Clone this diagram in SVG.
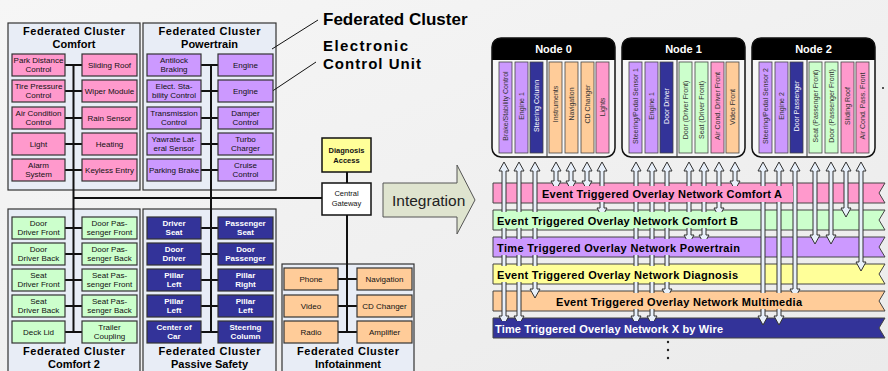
<svg xmlns="http://www.w3.org/2000/svg" width="888" height="371" viewBox="0 0 888 371">
<defs>
<linearGradient id="bg" x1="0" y1="0" x2="1" y2="1">
<stop offset="0" stop-color="#f6f6f6"/><stop offset="1" stop-color="#ebebeb"/>
</linearGradient>
<style>
.frame{fill:#e8edf6;stroke:#333;stroke-width:1.2}
.ft{font-family:"Liberation Sans",Arial,sans-serif;font-weight:bold;font-size:11px;text-anchor:middle;fill:#000}
.ecu{stroke:#333;stroke-width:1.2}
.pk{fill:#ff99cc}.pu{fill:#cc99ff}.gr{fill:#ccffcc}.bl{fill:#333399}.or{fill:#ffcc99}.ye{fill:#ffff99}
.et{font-family:"Liberation Sans",Arial,sans-serif;font-size:8px;text-anchor:middle;fill:#111}
.ew{font-family:"Liberation Sans",Arial,sans-serif;font-size:8px;font-weight:bold;text-anchor:middle;fill:#fff}
.bus{stroke:#111;stroke-width:2;fill:none}
.thin{stroke:#111;stroke-width:1;fill:none}
.call{font-family:"Liberation Sans",Arial,sans-serif;font-weight:bold;font-size:17px;fill:#000}
.call2{font-family:"Liberation Sans",Arial,sans-serif;font-weight:bold;font-size:15px;fill:#000}
.arr{fill:#e8f0fa;stroke:#333;stroke-width:1}
.band{stroke:#444;stroke-width:1}
.bt{font-family:"Liberation Sans",Arial,sans-serif;font-weight:bold;font-size:11px;fill:#000}
.col{stroke:#444;stroke-width:0.8}
.ct{font-family:"Liberation Sans",Arial,sans-serif;font-size:7px;text-anchor:middle;fill:#333}
.cw{font-family:"Liberation Sans",Arial,sans-serif;font-size:7px;text-anchor:middle;fill:#fff}
.nt{font-family:"Liberation Sans",Arial,sans-serif;font-weight:bold;font-size:11px;text-anchor:middle;fill:#fff}
.sm{font-family:"Liberation Sans",Arial,sans-serif;font-size:7.5px;text-anchor:middle;fill:#111}
</style>
</defs>
<rect width="888" height="371" fill="url(#bg)"/>

<!-- cluster frames -->
<g id="cluster-comfort">
<rect class="frame" x="8" y="23" width="132" height="167"/>
<text class="ft" x="74" y="35" textLength="102" lengthAdjust="spacing">Federated Cluster</text>
<text class="ft" x="74" y="48">Comfort</text>
</g>
<g id="cluster-powertrain">
<rect class="frame" x="143" y="23" width="133" height="167"/>
<text class="ft" x="209.5" y="35" textLength="102" lengthAdjust="spacing">Federated Cluster</text>
<text class="ft" x="209.5" y="48">Powertrain</text>
</g>
<g id="cluster-comfort2">
<rect class="frame" x="8" y="209" width="132" height="170"/>
<text class="ft" x="74" y="354.5" textLength="102" lengthAdjust="spacing">Federated Cluster</text>
<text class="ft" x="74" y="367.5">Comfort 2</text>
</g>
<g id="cluster-passive">
<rect class="frame" x="143" y="209" width="133" height="170"/>
<text class="ft" x="209.5" y="354.5" textLength="102" lengthAdjust="spacing">Federated Cluster</text>
<text class="ft" x="209.5" y="367.5">Passive Safety</text>
</g>
<g id="cluster-infotainment">
<rect class="frame" x="282" y="264" width="132" height="115"/>
<text class="ft" x="348" y="354.5" textLength="102" lengthAdjust="spacing">Federated Cluster</text>
<text class="ft" x="348" y="367.5">Infotainment</text>
</g>

<!-- left connectors -->
<g id="buses">
<path class="bus" d="M73.5 65 V332 M65 65 H82 M65 91 H82 M65 118 H82 M65 144 H82 M65 170 H82 M65 228 H82 M65 254 H82 M65 280 H82 M65 306 H82 M65 332 H82"/>
<path class="bus" d="M211 65 V332 M201 65 H218 M201 91 H218 M201 118 H218 M201 144 H218 M201 170 H218 M201 228 H218 M201 254 H218 M201 280 H218 M201 306 H218 M201 332 H218"/>
<path class="bus" d="M73.5 198 H322 M347 172 V183 M347 215 V332 M338 279 H357 M338 306 H357 M338 332 H357"/>
<path class="thin" d="M272 49 L318 20 M262 98 L316 62"/>
</g>

<!-- Comfort ECUs -->
<g id="ecu-park"><rect class="ecu pk" x="12" y="54" width="53" height="22"/><text class="et" x="38.5" y="63">Park Distance</text><text class="et" x="38.5" y="72">Control</text></g>
<g id="ecu-tire"><rect class="ecu pk" x="12" y="80" width="53" height="22"/><text class="et" x="38.5" y="89">Tire Pressure</text><text class="et" x="38.5" y="98">Control</text></g>
<g id="ecu-air"><rect class="ecu pk" x="12" y="107" width="53" height="22"/><text class="et" x="38.5" y="116">Air Condition</text><text class="et" x="38.5" y="125">Control</text></g>
<g id="ecu-light"><rect class="ecu pk" x="12" y="133" width="53" height="22"/><text class="et" x="38.5" y="147">Light</text></g>
<g id="ecu-alarm"><rect class="ecu pk" x="12" y="159" width="53" height="22"/><text class="et" x="38.5" y="168">Alarm</text><text class="et" x="38.5" y="177">System</text></g>
<g id="ecu-roof"><rect class="ecu pk" x="82" y="54" width="55" height="22"/><text class="et" x="109.5" y="68">Sliding Roof</text></g>
<g id="ecu-wiper"><rect class="ecu pk" x="82" y="80" width="55" height="22"/><text class="et" x="109.5" y="94">Wiper Module</text></g>
<g id="ecu-rain"><rect class="ecu pk" x="82" y="107" width="55" height="22"/><text class="et" x="109.5" y="121">Rain Sensor</text></g>
<g id="ecu-heating"><rect class="ecu pk" x="82" y="133" width="55" height="22"/><text class="et" x="109.5" y="147">Heating</text></g>
<g id="ecu-keyless"><rect class="ecu pk" x="82" y="159" width="55" height="22"/><text class="et" x="109.5" y="173">Keyless Entry</text></g>

<!-- Powertrain ECUs -->
<g id="ecu-abs"><rect class="ecu pu" x="147" y="54" width="54" height="22"/><text class="et" x="174" y="63">Antilock</text><text class="et" x="174" y="72">Braking</text></g>
<g id="ecu-esc"><rect class="ecu pu" x="147" y="80" width="54" height="22"/><text class="et" x="174" y="89">Elect. Sta-</text><text class="et" x="174" y="98">bility Control</text></g>
<g id="ecu-trans"><rect class="ecu pu" x="147" y="107" width="54" height="22"/><text class="et" x="174" y="116">Transmission</text><text class="et" x="174" y="125">Control</text></g>
<g id="ecu-yaw"><rect class="ecu pu" x="147" y="133" width="54" height="22"/><text class="et" x="174" y="142">Yawrate Lat-</text><text class="et" x="174" y="151">eral Sensor</text></g>
<g id="ecu-pbrake"><rect class="ecu pu" x="147" y="159" width="54" height="22"/><text class="et" x="174" y="173">Parking Brake</text></g>
<g id="ecu-engine1"><rect class="ecu pu" x="218" y="54" width="55" height="22"/><text class="et" x="245.5" y="68">Engine</text></g>
<g id="ecu-engine2"><rect class="ecu pu" x="218" y="80" width="55" height="22"/><text class="et" x="245.5" y="94">Engine</text></g>
<g id="ecu-damper"><rect class="ecu pu" x="218" y="107" width="55" height="22"/><text class="et" x="245.5" y="116">Damper</text><text class="et" x="245.5" y="125">Control</text></g>
<g id="ecu-turbo"><rect class="ecu pu" x="218" y="133" width="55" height="22"/><text class="et" x="245.5" y="142">Turbo</text><text class="et" x="245.5" y="151">Charger</text></g>
<g id="ecu-cruise"><rect class="ecu pu" x="218" y="159" width="55" height="22"/><text class="et" x="245.5" y="168">Cruise</text><text class="et" x="245.5" y="177">Control</text></g>

<!-- Comfort 2 ECUs -->
<g id="ecu-ddf"><rect class="ecu gr" x="12" y="217" width="53" height="22"/><text class="et" x="38.5" y="226">Door</text><text class="et" x="38.5" y="235">Driver Front</text></g>
<g id="ecu-ddb"><rect class="ecu gr" x="12" y="243" width="53" height="22"/><text class="et" x="38.5" y="252">Door</text><text class="et" x="38.5" y="261">Driver Back</text></g>
<g id="ecu-sdf"><rect class="ecu gr" x="12" y="269" width="53" height="22"/><text class="et" x="38.5" y="278">Seat</text><text class="et" x="38.5" y="287">Driver Front</text></g>
<g id="ecu-sdb"><rect class="ecu gr" x="12" y="295" width="53" height="22"/><text class="et" x="38.5" y="304">Seat</text><text class="et" x="38.5" y="313">Driver Back</text></g>
<g id="ecu-deck"><rect class="ecu gr" x="12" y="321" width="53" height="22"/><text class="et" x="38.5" y="335">Deck Lid</text></g>
<g id="ecu-dpf"><rect class="ecu gr" x="82" y="217" width="55" height="22"/><text class="et" x="109.5" y="226">Door Pas-</text><text class="et" x="109.5" y="235">senger Front</text></g>
<g id="ecu-dpb"><rect class="ecu gr" x="82" y="243" width="55" height="22"/><text class="et" x="109.5" y="252">Door Pas-</text><text class="et" x="109.5" y="261">senger Back</text></g>
<g id="ecu-spf"><rect class="ecu gr" x="82" y="269" width="55" height="22"/><text class="et" x="109.5" y="278">Seat Pas-</text><text class="et" x="109.5" y="287">senger Front</text></g>
<g id="ecu-spb"><rect class="ecu gr" x="82" y="295" width="55" height="22"/><text class="et" x="109.5" y="304">Seat Pas-</text><text class="et" x="109.5" y="313">senger Back</text></g>
<g id="ecu-trailer"><rect class="ecu gr" x="82" y="321" width="55" height="22"/><text class="et" x="109.5" y="330">Trailer</text><text class="et" x="109.5" y="339">Coupling</text></g>

<!-- Passive Safety ECUs -->
<g id="ecu-dseat"><rect class="ecu bl" x="147" y="217" width="54" height="22"/><text class="ew" x="174" y="226">Driver</text><text class="ew" x="174" y="235">Seat</text></g>
<g id="ecu-ddoor"><rect class="ecu bl" x="147" y="243" width="54" height="22"/><text class="ew" x="174" y="252">Door</text><text class="ew" x="174" y="261">Driver</text></g>
<g id="ecu-pl1"><rect class="ecu bl" x="147" y="269" width="54" height="22"/><text class="ew" x="174" y="278">Pillar</text><text class="ew" x="174" y="287">Left</text></g>
<g id="ecu-pl2"><rect class="ecu bl" x="147" y="295" width="54" height="22"/><text class="ew" x="174" y="304">Pillar</text><text class="ew" x="174" y="313">Left</text></g>
<g id="ecu-center"><rect class="ecu bl" x="147" y="321" width="54" height="22"/><text class="ew" x="174" y="330">Center of</text><text class="ew" x="174" y="339">Car</text></g>
<g id="ecu-pseat"><rect class="ecu bl" x="218" y="217" width="55" height="22"/><text class="ew" x="245.5" y="226">Passenger</text><text class="ew" x="245.5" y="235">Seat</text></g>
<g id="ecu-pdoor"><rect class="ecu bl" x="218" y="243" width="55" height="22"/><text class="ew" x="245.5" y="252">Door</text><text class="ew" x="245.5" y="261">Passenger</text></g>
<g id="ecu-pr"><rect class="ecu bl" x="218" y="269" width="55" height="22"/><text class="ew" x="245.5" y="278">Pillar</text><text class="ew" x="245.5" y="287">Right</text></g>
<g id="ecu-pl3"><rect class="ecu bl" x="218" y="295" width="55" height="22"/><text class="ew" x="245.5" y="304">Pillar</text><text class="ew" x="245.5" y="313">Left</text></g>
<g id="ecu-steer"><rect class="ecu bl" x="218" y="321" width="55" height="22"/><text class="ew" x="245.5" y="330">Steering</text><text class="ew" x="245.5" y="339">Column</text></g>

<!-- Infotainment ECUs -->
<g id="ecu-phone"><rect class="ecu or" x="284" y="268" width="54" height="22"/><text class="et" x="311" y="282">Phone</text></g>
<g id="ecu-video"><rect class="ecu or" x="284" y="295" width="54" height="22"/><text class="et" x="311" y="309">Video</text></g>
<g id="ecu-radio"><rect class="ecu or" x="284" y="321" width="54" height="22"/><text class="et" x="311" y="335">Radio</text></g>
<g id="ecu-nav"><rect class="ecu or" x="357" y="268" width="55" height="22"/><text class="et" x="384.5" y="282">Navigation</text></g>
<g id="ecu-cd"><rect class="ecu or" x="357" y="295" width="55" height="22"/><text class="et" x="384.5" y="309">CD Changer</text></g>
<g id="ecu-amp"><rect class="ecu or" x="357" y="321" width="55" height="22"/><text class="et" x="384.5" y="335">Amplifier</text></g>

<!-- gateway & diagnosis -->
<g id="diagnosis"><rect x="322" y="138" width="49" height="34" fill="#ffff99" stroke="#111" stroke-width="1.5"/><text class="sm" x="346.5" y="153" font-weight="bold">Diagnosis</text><text class="sm" x="346.5" y="163" font-weight="bold">Access</text></g>
<g id="gateway"><rect x="322" y="183" width="49" height="32" fill="#fff" stroke="#111" stroke-width="1.5"/><text class="sm" x="346.5" y="196">Central</text><text class="sm" x="346.5" y="206">Gateway</text></g>

<!-- callouts -->
<g id="callouts">
<text class="call" x="323" y="25">Federated Cluster</text>
<text class="call2" x="323" y="51" textLength="85" lengthAdjust="spacing">Electronic</text>
<text class="call2" x="323" y="69" textLength="98" lengthAdjust="spacing">Control Unit</text>
</g>

<!-- integration arrow -->
<g id="integration">
<path d="M383 183 H457 V165 L475 200 L457 234 V217 H383 Z" fill="#dfe4cf" stroke="#555" stroke-width="1"/>
<text x="392" y="206" font-family="Liberation Sans, Arial, sans-serif" font-size="15.5" fill="#222">Integration</text>
</g>

<!-- bands -->
<g id="bands">
<path class="band" fill="#ff99cc" d="M493 183 H885 L879 193 L885 203 H493 Z"/>
<path class="band" fill="#ccffcc" d="M493 210 H885 L879 220 L885 230 H493 Z"/>
<path class="band" fill="#cc99ff" d="M493 237 H885 L879 247 L885 257 H493 Z"/>
<path class="band" fill="#ffff99" d="M493 264 H885 L879 274 L885 284 H493 Z"/>
<path class="band" fill="#ffcc99" d="M493 291 H885 L879 301 L885 311 H493 Z"/>
<path class="band" fill="#333399" d="M493 318 H885 L879 328 L885 338 H493 Z"/>
</g>

<!-- nodes -->
<g id="node0">
<rect x="492" y="38" width="123" height="119" rx="9" fill="#f7f7f7"/>
<path d="M492 60 V47 Q492 38 501 38 H606 Q615 38 615 47 V60 Z" fill="#000"/>
<rect x="492" y="38" width="123" height="119" rx="9" fill="none" stroke="#111" stroke-width="1.5"/>
<line x1="547" y1="60" x2="547" y2="157" stroke="#333" stroke-width="1"/>
<text class="nt" x="553.5" y="53">Node 0</text>
<rect class="col pu" x="499" y="62" width="13" height="91"/>
<rect class="col pu" x="515" y="62" width="13" height="91"/>
<rect class="col bl" x="530" y="62" width="13" height="91"/>
<rect class="col or" x="549" y="62" width="13" height="91"/>
<rect class="col or" x="565" y="62" width="13" height="91"/>
<rect class="col or" x="581" y="62" width="13" height="91"/>
<rect class="col pk" x="596" y="62" width="13" height="91"/>
<text class="ct" transform="translate(508,106) rotate(-90)">Brake/Stability Control</text>
<text class="ct" transform="translate(524,106) rotate(-90)">Engine 1</text>
<text class="cw" transform="translate(539,106) rotate(-90)">Steering Column</text>
<text class="ct" transform="translate(558,104) rotate(-90)">Instruments</text>
<text class="ct" transform="translate(574,104) rotate(-90)">Navigation</text>
<text class="ct" transform="translate(590,104) rotate(-90)">CD Changer</text>
<text class="ct" transform="translate(605,107) rotate(-90)">Lights</text>
</g>
<g id="node1">
<rect x="622" y="38" width="123" height="119" rx="9" fill="#f7f7f7"/>
<path d="M622 60 V47 Q622 38 631 38 H736 Q745 38 745 47 V60 Z" fill="#000"/>
<rect x="622" y="38" width="123" height="119" rx="9" fill="none" stroke="#111" stroke-width="1.5"/>
<line x1="677" y1="60" x2="677" y2="157" stroke="#333" stroke-width="1"/>
<text class="nt" x="683.5" y="53">Node 1</text>
<rect class="col pu" x="629" y="62" width="13" height="91"/>
<rect class="col pu" x="645" y="62" width="13" height="91"/>
<rect class="col bl" x="660" y="62" width="13" height="91"/>
<rect class="col gr" x="679" y="62" width="13" height="91"/>
<rect class="col gr" x="695" y="62" width="13" height="91"/>
<rect class="col pk" x="711" y="62" width="13" height="91"/>
<rect class="col or" x="726" y="62" width="13" height="91"/>
<text class="ct" transform="translate(638,106) rotate(-90)">Steering/Pedal Sensor 1</text>
<text class="ct" transform="translate(654,106) rotate(-90)">Engine 1</text>
<text class="cw" transform="translate(669,106) rotate(-90)">Door Driver</text>
<text class="ct" transform="translate(688,110) rotate(-90)">Door (Driver Front)</text>
<text class="ct" transform="translate(704,110) rotate(-90)">Seat (Driver Front)</text>
<text class="ct" transform="translate(720,106) rotate(-90)">Air Cond. Driver Front</text>
<text class="ct" transform="translate(735,107) rotate(-90)">Video Front</text>
</g>
<g id="node2">
<rect x="752" y="38" width="123" height="119" rx="9" fill="#f7f7f7"/>
<path d="M752 60 V47 Q752 38 761 38 H866 Q875 38 875 47 V60 Z" fill="#000"/>
<rect x="752" y="38" width="123" height="119" rx="9" fill="none" stroke="#111" stroke-width="1.5"/>
<line x1="807" y1="60" x2="807" y2="157" stroke="#333" stroke-width="1"/>
<text class="nt" x="813.5" y="53">Node 2</text>
<rect class="col pu" x="759" y="62" width="13" height="91"/>
<rect class="col pu" x="775" y="62" width="13" height="91"/>
<rect class="col bl" x="790" y="62" width="13" height="91"/>
<rect class="col gr" x="809" y="62" width="13" height="91"/>
<rect class="col gr" x="825" y="62" width="13" height="91"/>
<rect class="col pk" x="841" y="62" width="13" height="91"/>
<rect class="col pk" x="856" y="62" width="13" height="91"/>
<text class="ct" transform="translate(768,106) rotate(-90)">Steering/Pedal Sensor 2</text>
<text class="ct" transform="translate(784,106) rotate(-90)">Engine 2</text>
<text class="cw" transform="translate(799,106) rotate(-90)">Door Passenger</text>
<text class="ct" transform="translate(818,106) rotate(-90)">Seat (Passenger Front)</text>
<text class="ct" transform="translate(834,106) rotate(-90)">Door (Passenger Front)</text>
<text class="ct" transform="translate(850,106) rotate(-90)">Sliding Roof</text>
<text class="ct" transform="translate(865,106) rotate(-90)">Air Cond. Pass. Front</text>
</g>

<!-- arrows -->
<g id="arrows" class="arr">
<path d="M504 162 L509 171 L506 171 L506 316 L509 316 L504 325 L499 316 L502 316 L502 171 L499 171 Z"/>
<path d="M519 162 L524 171 L521 171 L521 316 L524 316 L519 325 L514 316 L517 316 L517 171 L514 171 Z"/>
<path d="M535 162 L540 171 L537 171 L537 289 L540 289 L535 298 L530 289 L533 289 L533 171 L530 171 Z"/>
<path d="M556 162 L561 171 L558 171 L558 181 L561 181 L556 190 L551 181 L554 181 L554 171 L551 171 Z"/>
<path d="M571 162 L576 171 L573 171 L573 181 L576 181 L571 190 L566 181 L569 181 L569 171 L566 171 Z"/>
<path d="M587 162 L592 171 L589 171 L589 181 L592 181 L587 190 L582 181 L585 181 L585 171 L582 171 Z"/>
<path d="M602 162 L607 171 L604 171 L604 208 L607 208 L602 217 L597 208 L600 208 L600 171 L597 171 Z"/>
<path d="M636 162 L641 171 L638 171 L638 316 L641 316 L636 325 L631 316 L634 316 L634 171 L631 171 Z"/>
<path d="M652 162 L657 171 L654 171 L654 316 L657 316 L652 325 L647 316 L650 316 L650 171 L647 171 Z"/>
<path d="M667 162 L672 171 L669 171 L669 289 L672 289 L667 298 L662 289 L665 289 L665 171 L662 171 Z"/>
<path d="M689 162 L694 171 L691 171 L691 235 L694 235 L689 244 L684 235 L687 235 L687 171 L684 171 Z"/>
<path d="M704 162 L709 171 L706 171 L706 235 L709 235 L704 244 L699 235 L702 235 L702 171 L699 171 Z"/>
<path d="M719 162 L724 171 L721 171 L721 208 L724 208 L719 217 L714 208 L717 208 L717 171 L714 171 Z"/>
<path d="M735 162 L740 171 L737 171 L737 181 L740 181 L735 190 L730 181 L733 181 L733 171 L730 171 Z"/>
<path d="M763 162 L768 171 L765 171 L765 316 L768 316 L763 325 L758 316 L761 316 L761 171 L758 171 Z"/>
<path d="M779 162 L784 171 L781 171 L781 316 L784 316 L779 325 L774 316 L777 316 L777 171 L774 171 Z"/>
<path d="M795 162 L800 171 L797 171 L797 289 L800 289 L795 298 L790 289 L793 289 L793 171 L790 171 Z"/>
<path d="M815 162 L820 171 L817 171 L817 235 L820 235 L815 244 L810 235 L813 235 L813 171 L810 171 Z"/>
<path d="M831 162 L836 171 L833 171 L833 235 L836 235 L831 244 L826 235 L829 235 L829 171 L826 171 Z"/>
<path d="M846 162 L851 171 L848 171 L848 208 L851 208 L846 217 L841 208 L844 208 L844 171 L841 171 Z"/>
<path d="M861 162 L866 171 L863 171 L863 262 L866 262 L861 271 L856 262 L859 262 L859 171 L856 171 Z"/>
</g>

<!-- band labels -->
<g id="band-labels">
<rect x="539" y="186" width="254" height="16" fill="#ff99cc"/>
<text class="bt" x="542" y="198" textLength="240" lengthAdjust="spacing">Event Triggered Overlay Network Comfort A</text>
<rect x="495" y="212" width="246" height="16" fill="#ccffcc"/>
<text class="bt" x="497" y="225" textLength="241" lengthAdjust="spacing">Event Triggered Overlay Network Comfort B</text>
<rect x="495" y="239" width="248" height="16" fill="#cc99ff"/>
<text class="bt" x="497" y="252" textLength="243" lengthAdjust="spacing">Time Triggered Overlay Network Powertrain</text>
<rect x="495" y="266" width="246" height="16" fill="#ffff99"/>
<text class="bt" x="497" y="279" textLength="241" lengthAdjust="spacing">Event Triggered Overlay Network Diagnosis</text>
<rect x="553" y="293" width="252" height="16" fill="#ffcc99"/>
<text class="bt" x="556" y="306" textLength="246" lengthAdjust="spacing">Event Triggered Overlay Network Multimedia</text>
<rect x="494" y="321" width="232" height="16" fill="#333399"/>
<text class="bt" x="495" y="333" textLength="228" lengthAdjust="spacing" style="fill:#fff">Time Triggered Overlay Network X by Wire</text>
</g>

<g id="ellipsis" fill="#222">
<circle cx="668" cy="342" r="1.2"/><circle cx="668" cy="350" r="1.2"/><circle cx="668" cy="358" r="1.2"/>
<circle cx="883" cy="88" r="1"/>
</g>
</svg>
